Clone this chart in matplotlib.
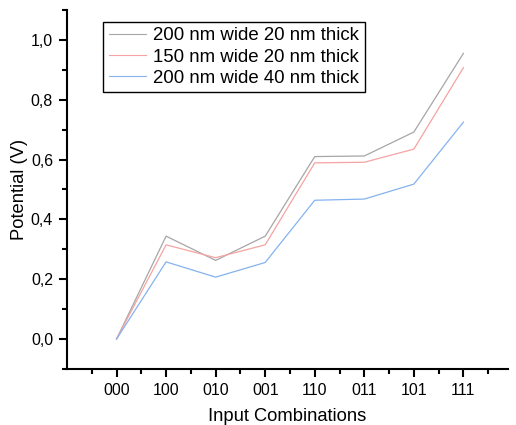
import numpy as np
import matplotlib.pyplot as plt
from matplotlib.ticker import MultipleLocator, FuncFormatter

plt.rcParams['font.family'] = ['Liberation Sans', 'DejaVu Sans']

combos = ['000', '100', '010', '001', '110', '011', '101', '111']
w200_t20 = [0.0, 0.344, 0.263, 0.344, 0.610, 0.612, 0.692, 0.955]
w150_t20 = [0.0, 0.315, 0.272, 0.315, 0.589, 0.591, 0.635, 0.907]
w200_t40 = [0.0, 0.258, 0.207, 0.256, 0.464, 0.468, 0.518, 0.725]

labels = ['200 nm wide 20 nm thick', '150 nm wide 20 nm thick', '200 nm wide 40 nm thick']
colors = ['#a6a6a6', '#f5a3a3', '#85b3f0']

fig = plt.figure(figsize=(5.16, 4.25), dpi=100)
ax = fig.add_axes([0.1298, 0.1318, 0.8547, 0.8447])

x = np.arange(len(combos))
for ys, lab, c in zip([w200_t20, w150_t20, w200_t40], labels, colors):
    ax.plot(x, ys, color=c, lw=0.9, label=lab)

ax.set_xlim(-1, 7.9)
ax.set_ylim(-0.1, 1.1)
ax.set_xticks(x)
ax.set_xticklabels(combos)
ax.set_xticks(np.arange(-1, 8) + 0.5, minor=True)
ax.yaxis.set_major_locator(MultipleLocator(0.2))
ax.yaxis.set_minor_locator(MultipleLocator(0.1))
ax.yaxis.set_major_formatter(FuncFormatter(lambda v, p: f'{v:.1f}'.replace('.', ',').replace('-0,0', '0,0')))

for s in ['top', 'right']:
    ax.spines[s].set_visible(False)
for s in ['left', 'bottom']:
    ax.spines[s].set_linewidth(1.5)
ax.tick_params(which='major', direction='out', length=6, width=1.5, labelsize=11.5, pad=4)
ax.tick_params(which='minor', direction='out', length=3.5, width=1.5)

ax.set_xlabel('Input Combinations', fontsize=13.2, labelpad=7)
ax.set_ylabel('Potential (V)', fontsize=13.2, labelpad=2)

leg = ax.legend(loc='upper left', bbox_to_anchor=(0.082, 0.967), fontsize=13.4, frameon=True,
                fancybox=False, edgecolor='black', framealpha=1, handlelength=2.0,
                handletextpad=0.4, borderpad=0.3, labelspacing=0.22, borderaxespad=0)
leg.get_frame().set_linewidth(1.0)
for line in leg.get_lines():
    line.set_linewidth(0.8)

fig.savefig('out.png', dpi=100)
